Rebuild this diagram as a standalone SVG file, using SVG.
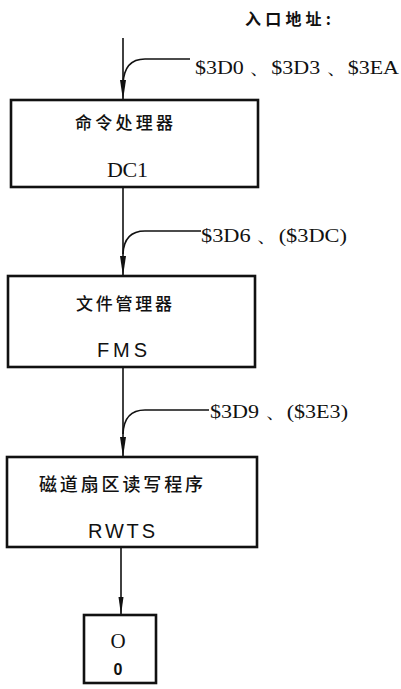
<svg xmlns="http://www.w3.org/2000/svg" width="401" height="689" viewBox="0 0 401 689">
<style>
.box{fill:#fff;stroke:#111;stroke-width:2.6}
.ln{fill:none;stroke:#111;stroke-width:1.6}
.ah{fill:#111}
.zh{font-family:"Noto Sans CJK SC","Noto Sans CJK JP",sans-serif;fill:#111}
.lat{font-family:"Liberation Serif",serif;fill:#111}
.sans{font-family:"Liberation Sans",sans-serif;fill:#111}
</style>
<rect width="401" height="689" fill="#fff"/>
<text class="zh" x="245" y="25" font-size="16" font-weight="bold" textLength="86">入口地址:</text>
<g id="connectors">
<path class="ln" d="M123,38 V100"/>
<path class="ln" d="M190,59 H145 Q124,59 123,84"/>
<path class="ln" d="M123,187 V276"/>
<path class="ln" d="M201,231 H145 Q124,231 123,254"/>
<path class="ln" d="M123,367 V457"/>
<path class="ln" d="M209,410 H145 Q124,410 123,434"/>
<path class="ln" d="M121,547 V615"/>
<path class="ah" d="M120,80 L123,100 L126,80 Z"/>
<path class="ah" d="M120,256 L123,276 L126,256 Z"/>
<path class="ah" d="M120,437 L123,457 L126,437 Z"/>
<path class="ah" d="M118.5,597 L121,615 L123.5,597 Z"/>
<text class="lat" x="195" y="74" font-size="18" textLength="204" lengthAdjust="spacingAndGlyphs">$3D0 、$3D3 、$3EA</text>
<text class="lat" x="201" y="242" font-size="18" textLength="146" lengthAdjust="spacingAndGlyphs">$3D6 、($3DC)</text>
<text class="lat" x="210" y="418" font-size="18" textLength="138" lengthAdjust="spacingAndGlyphs">$3D9 、($3E3)</text>
</g>
<g id="dci">
<rect class="box" x="11" y="100" width="247" height="87"/>
<text class="zh" x="75" y="129" font-size="17" font-weight="500" textLength="98">命令处理器</text>
<text class="lat" x="107" y="177" font-size="22" textLength="41">DC1</text>
</g>
<g id="fms">
<rect class="box" x="8" y="276" width="247" height="91"/>
<text class="zh" x="76" y="310" font-size="17" font-weight="500" textLength="96">文件管理器</text>
<text class="sans" x="97" y="357" font-size="20" textLength="50">FMS</text>
</g>
<g id="rwts">
<rect class="box" x="7" y="457" width="250" height="90"/>
<text class="zh" x="39" y="491" font-size="18" font-weight="500" textLength="164">磁道扇区读写程序</text>
<text class="sans" x="88" y="538" font-size="20" textLength="67">RWTS</text>
</g>
<g id="zero">
<rect class="box" x="84" y="615" width="72" height="68"/>
<text class="lat" x="118" y="648" font-size="21" text-anchor="middle">O</text>
<text class="sans" x="118" y="675" font-size="16" font-weight="bold" text-anchor="middle">0</text>
</g>
</svg>
